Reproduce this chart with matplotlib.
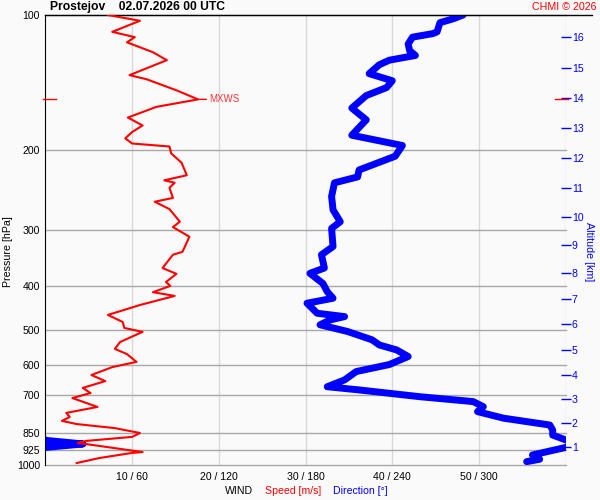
import matplotlib
matplotlib.use("Agg")
import matplotlib.pyplot as plt
import matplotlib.transforms as mtransforms
from matplotlib.ticker import NullLocator

plt.rcParams["font.family"] = ["Liberation Sans", "DejaVu Sans"]

# wind speed profile, surface upward (hPa, m/s)
spd_p = [990, 965, 940, 936, 907, 893, 884, 866, 849, 828, 811, 798, 782, 766, 743, 710, 692, 674, 651, 631,
         606, 590, 567, 552, 533, 506, 496, 481, 464, 441, 421, 413, 400, 392, 376, 365, 341, 336, 311, 296,
         288, 270, 260, 255, 242, 236, 233, 227, 213, 203, 196, 193, 188, 182, 176, 169, 160, 154, 147, 139,
         136, 126, 121, 115, 112, 109, 103, 100]
spd = [3.6, 6.2, 10.0, 11.2, 6.2, 3.7, 4.7, 10.0, 10.9, 8.0, 3.6, 1.9, 2.8, 2.4, 6.0, 3.1, 5.2, 4.3, 6.9, 5.3,
       7.7, 10.5, 9.4, 8.0, 8.6, 11.2, 9.1, 8.9, 7.2, 10.9, 14.9, 12.4, 14.4, 13.9, 15.1, 13.5, 14.7, 15.8, 16.6, 14.7,
       15.5, 14.3, 12.6, 14.7, 14.3, 14.9, 13.7, 16.3, 15.7, 14.5, 14.3, 10.0, 9.2, 10.0, 11.2, 9.5, 12.8, 17.6, 15.1, 11.7,
       9.7, 14.0, 12.4, 9.4, 10.3, 7.7, 10.9, 7.2]

# wind direction profile (deg), values above 360 wrap round to the left edge
dir_p = [983, 971, 950, 914, 898, 882, 858, 836, 815, 787, 761, 742, 723, 705, 681, 670, 647, 620, 598, 574,
         555, 541, 527, 505, 496, 488, 476, 468, 460, 437, 426, 412, 395, 375, 365, 341, 327, 298, 288, 271,
         253, 236, 229, 221, 206, 195, 185, 171, 161, 151, 145, 140, 135, 129, 126, 123, 120, 116, 112, 110,
         109, 104, 102, 100]
wdir = [333, 342, 337, 360, 386, 361, 351, 351, 349, 317, 299, 303, 296, 259, 217, 195, 207, 215, 238, 251,
        243, 231, 226, 209, 199, 190, 197, 207, 188, 181, 199, 195, 192, 183, 193, 191, 199, 198, 204, 199,
        198, 200, 216, 217, 242, 247, 212, 222, 212, 222, 236, 240, 224, 231, 238, 256, 252, 251, 254, 268,
        271, 273, 282, 289]

p_ticks = [100, 200, 300, 400, 500, 600, 700, 850, 925, 1000]
alt_km = list(range(1, 17))
alt_p = [911, 805, 712, 631, 555, 487, 427, 374, 324, 281, 242, 208, 178, 153, 131, 112]
spd_ticks = [10, 20, 30, 40, 50]
dir_ticks = [60, 120, 180, 240, 300]

BG = "#fafafa"
HGRID = "#a8a8a8"
VGRID = "#d8d8d8"
FS = 7.6

fig = plt.figure(figsize=(6, 5), dpi=100, facecolor=BG)
ax = fig.add_axes([0.0758, 0.07, 0.867, 0.90], facecolor=BG)

# direction axis (bottom layer)
ax.set_yscale("log")
ax.set_ylim(1000, 100)
ax.set_xlim(0, 360)
ax.yaxis.set_minor_locator(NullLocator())
ax.set_yticks(p_ticks)
ax.set_yticklabels([str(p) for p in p_ticks])
ax.set_xticks(dir_ticks)
ax.set_xticklabels([f"{s} / {d}" for s, d in zip(spd_ticks, dir_ticks)])
ax.tick_params(axis="both", length=0, labelsize=FS)
ax.tick_params(axis="y", pad=4)
ax.tick_params(axis="x", pad=5)

for d in dir_ticks + [360]:
    ax.axvline(d, color=VGRID, lw=1, zorder=0)
for p in p_ticks[1:]:
    ax.axhline(p, color=HGRID, lw=1, zorder=0.5, clip_on=False)

for side in ["right", "bottom"]:
    ax.spines[side].set_visible(False)
ax.spines["left"].set_color("black")
ax.spines["top"].set_color("black")
ax.plot([0, 1.05], [1, 1], transform=ax.transAxes, color="black", lw=1, clip_on=False)

ax.plot(wdir, dir_p, color="blue", lw=5, solid_capstyle="round", solid_joinstyle="round", zorder=2)
ax.plot([d - 360 for d in wdir], dir_p, color="blue", lw=5, solid_capstyle="round",
        solid_joinstyle="round", zorder=2)

# altitude axis on the right
axr = ax.twinx()
axr.set_yscale("log")
axr.set_ylim(1000, 100)
axr.yaxis.set_minor_locator(NullLocator())
axr.set_yticks(alt_p)
axr.set_yticklabels([str(a) for a in alt_km])
axr.tick_params(axis="y", colors="blue", direction="inout", length=7, width=1, pad=1, labelsize=FS)
for s in axr.spines.values():
    s.set_visible(False)

# speed axis (top layer)
axs = ax.twiny()
axs.set_xlim(0, 60)
axs.set_xticks([])
for s in axs.spines.values():
    s.set_visible(False)
axs.plot(spd, spd_p, color="red", lw=1.5, zorder=3)

i_max = spd.index(max(spd))
mx_s, mx_p = spd[i_max], spd_p[i_max]
mark = mtransforms.blended_transform_factory(axs.transAxes, axs.transData)
axs.plot([-0.005, 0.02], [mx_p, mx_p], transform=mark, color="red", lw=1, clip_on=False)
axs.plot([0.98, 1.005], [mx_p, mx_p], transform=mark, color="red", lw=1, clip_on=False)
axs.annotate("MXWS", xy=(mx_s, mx_p), xytext=(8, 0), textcoords="offset points",
             va="center", ha="left", color="#ff3333", fontsize=7,
             arrowprops=dict(arrowstyle="-", color="red", lw=1, shrinkA=0, shrinkB=0))

# texts around the frame
fig.text(50 / 600, 1 - 7 / 500, "Prostejov    02.07.2026 00 UTC", fontsize=8.7, fontweight="bold",
         ha="left", va="center")
fig.text(596 / 600, 1 - 7 / 500, "CHMI \u00a9 2026", fontsize=7.7, color="red", ha="right", va="center")
fig.text(8 / 600, 1 - 252 / 500, "Pressure [hPa]", fontsize=7.7, rotation=90, ha="center", va="center")
fig.text(589 / 600, 1 - 252 / 500, "Altitude [km]", fontsize=7.7, rotation=270, color="blue",
         ha="center", va="center")
fig.text(239 / 600, 1 - 491 / 500, "WIND", fontsize=FS, ha="center", va="center")
fig.text(293 / 600, 1 - 491 / 500, "Speed [m/s]", fontsize=FS, color="red", ha="center", va="center")
fig.text(360 / 600, 1 - 491 / 500, "Direction [\u00b0]", fontsize=FS, color="blue", ha="center", va="center")

fig.savefig("out.png", dpi=100, facecolor=BG)
